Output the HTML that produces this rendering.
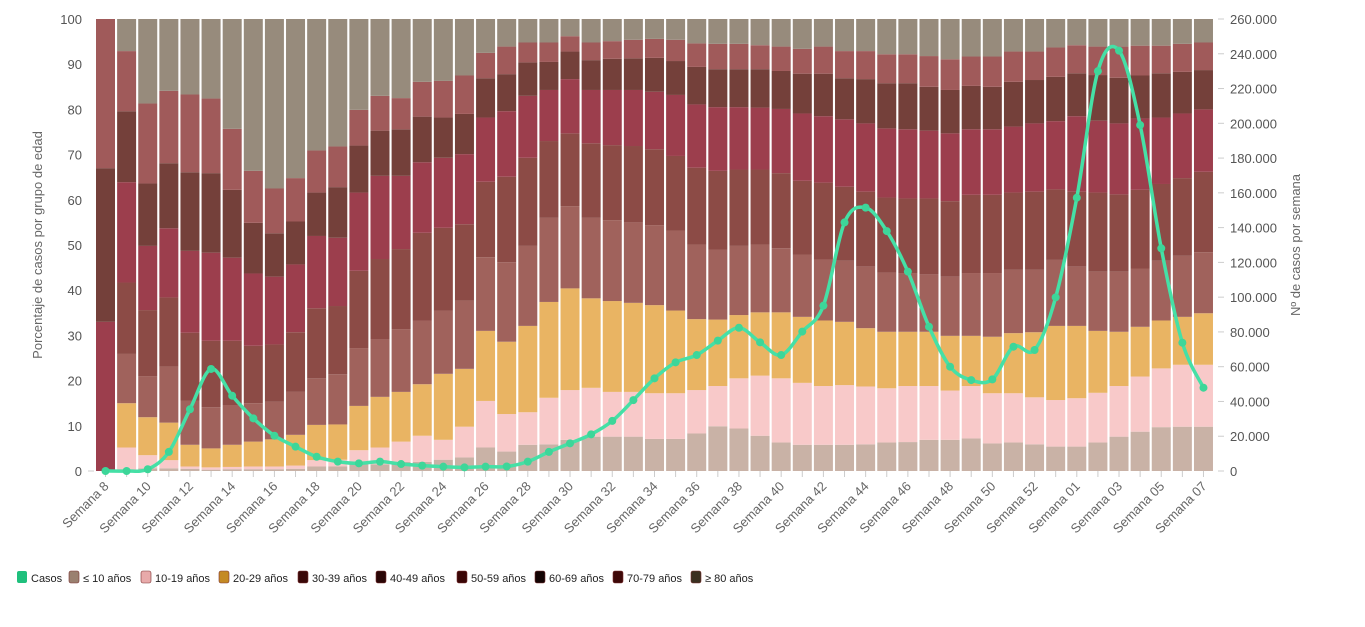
<!DOCTYPE html>
<html><head><meta charset="utf-8">
<style>
body{margin:0;background:#fff;font-family:"Liberation Sans",sans-serif;}
svg text{font-family:"Liberation Sans",sans-serif;}
</style></head>
<body>
<svg id="chart" width="1365" height="622" viewBox="0 0 1365 622" xmlns="http://www.w3.org/2000/svg"></svg>
<script>
const weeks = ["Semana 8","Semana 9","Semana 10","Semana 11","Semana 12","Semana 13","Semana 14","Semana 15","Semana 16","Semana 17","Semana 18","Semana 19","Semana 20","Semana 21","Semana 22","Semana 23","Semana 24","Semana 25","Semana 26","Semana 27","Semana 28","Semana 29","Semana 30","Semana 31","Semana 32","Semana 33","Semana 34","Semana 35","Semana 36","Semana 37","Semana 38","Semana 39","Semana 40","Semana 41","Semana 42","Semana 43","Semana 44","Semana 45","Semana 46","Semana 47","Semana 48","Semana 49","Semana 50","Semana 51","Semana 52","Semana 53","Semana 01","Semana 02","Semana 03","Semana 04","Semana 05","Semana 06","Semana 07"];
// cumulative tops (%) per group
const cum10 = [0,0,0.6,0.6,0.5,0.3,0.4,0.4,0.4,0.5,1,1,1.5,1.5,2,2,2.5,3,5.2,4.3,5.8,5.9,6.9,7.6,7.6,7.6,7.1,7.1,8.3,9.9,9.4,7.8,6.3,5.8,5.8,5.8,5.9,6.3,6.4,6.9,6.9,7.2,6.1,6.3,5.9,5.4,5.4,6.3,7.6,8.7,9.7,9.8,9.8];
const cum19 = [0,5.2,3.5,2.4,1,0.8,0.9,1,1,1.2,2.4,2.5,4.6,5.2,6.5,7.8,6.9,9.8,15.5,12.6,13,16.2,17.9,18.4,17.5,17.5,17.2,17.2,17.9,18.8,20.5,21.1,20.5,19.5,18.8,19,18.7,18.3,18.8,18.8,17.8,18.8,17.2,17.2,16.3,15.7,16.1,17.3,18.8,20.9,22.7,23.5,23.5];
const cum29 = [0,15,11.9,10.7,5.8,5,5.8,6.5,7,8,10.2,10.3,14.4,16.4,17.5,19.2,21.5,22.6,31,28.6,32.1,37.4,40.4,38.2,37.6,37.2,36.7,35.5,33.6,33.5,34.5,35.1,35.1,34.1,33.3,33,31.6,30.8,30.8,30.8,29.9,29.9,29.7,30.5,30.7,32.1,32.1,31,30.8,31.9,33.3,34.1,34.9];
const cum39 = [0,25.9,21,23.1,15.6,14.1,14.6,15,15.3,17.5,20.5,21.4,27.2,29.2,31.4,33.3,35.5,37.7,47.3,46.2,49.8,56,58.6,56,55.5,55,54.4,53.2,50.1,49,49.8,50.1,49.3,47.9,46.8,46.5,45.2,43.9,43.8,43.5,43,43.8,43.8,44.5,44.5,46.7,45.2,44.1,44.1,44.8,46.5,47.6,48.4];
const cum49 = [0,41.7,35.6,38.4,30.6,28.8,28.8,27.7,28,30.7,36,36.5,44.3,46.9,49.1,52.7,53.8,54.6,64,65.1,69.3,73,74.7,72.5,72.1,71.9,71.2,69.7,67.1,66.4,66.7,66.7,65.9,64.2,63.8,62.9,61.8,60.5,60.3,60.3,59.7,61.1,61.1,61.6,61.8,62.3,61.8,61.6,61.2,62.2,63.5,64.8,66.2];
const cum59 = [33,63.9,49.8,53.7,48.7,48.3,47.2,43.7,43,45.7,52,51.6,61.6,65.3,65.3,68.3,69.3,70.1,78.2,79.6,83,84.3,86.7,84.3,84.3,84.3,83.9,83.2,81.1,80.5,80.5,80.4,80.1,79.1,78.5,77.8,76.9,75.8,75.6,75.3,74.7,75.6,75.6,76.2,76.9,77.4,78.5,77.5,76.9,78,78.2,79.1,80];
const cum69 = [67,79.6,63.6,68.1,66.1,65.9,62.2,54.9,52.6,55.2,61.6,62.8,72,75.3,75.6,78.4,78.2,79,86.9,87.8,90.4,90.5,92.8,90.9,91.2,91.3,91.4,90.7,89.4,88.9,88.9,88.9,88.5,87.9,87.9,86.9,86.7,85.8,85.8,85,84.3,85.2,85,86.1,86.5,87.2,88,87.6,87,87.5,88,88.3,88.7];
const cum79 = [100,92.9,81.3,84.1,83.3,82.4,75.7,66.4,62.5,64.8,70.9,71.8,79.9,83,82.5,86.1,86.3,87.5,92.5,93.9,94.8,94.8,96.2,94.8,95.1,95.4,95.6,95.4,94.6,94.5,94.5,94.2,93.9,93.4,93.9,92.9,92.9,92.2,92.2,91.8,91.1,91.7,91.7,92.8,92.8,93.7,94.2,93.9,93.9,94.1,94.1,94.5,94.8];
const casos = [0,0,1000,11000,35500,58700,43300,30300,20300,14000,8200,5400,4400,5400,4000,3100,2500,2100,2500,2600,5400,11000,15900,21100,28800,40800,53300,62500,66700,75000,82400,74000,66700,80200,95100,143000,151500,138000,114700,83000,60000,52300,52700,71500,69600,99900,157200,230000,241800,199000,128100,73800,47900];
const leftTicks = ["0","10","20","30","40","50","60","70","80","90","100"];
const rightTicks = ["0","20.000","40.000","60.000","80.000","100.000","120.000","140.000","160.000","180.000","200.000","220.000","240.000","260.000"];
const groups = ["≤ 10 años","10-19 años","20-29 años","30-39 años","40-49 años","50-59 años","60-69 años","70-79 años","≥ 80 años"];

const colors = ["#c9b2a6","#f8c9c9","#e9b463","#a0625c","#8c4b46","#9c3e4d","#74403a","#a05a5a","#978b7c"];
const legendColors = ["#9a8070","#e8aaaa","#c48a24","#3a0808","#2a0606","#3a0606","#140404","#3e0808","#3a3020"];
const NS="http://www.w3.org/2000/svg";
const svg=document.getElementById('chart');
const X0=96, PITCH=21.115, BW=19, YT=19, YB=471;
const yL=v=>YB-(v/100)*(YB-YT);
const yR=v=>YB-(v/260000)*(YB-YT);
const xC=i=>X0+i*PITCH+BW/2;
function mk(t,a,p){const e=document.createElementNS(NS,t);for(const k in a)e.setAttribute(k,a[k]);(p||svg).appendChild(e);return e;}

// bars
const cums=[cum10,cum19,cum29,cum39,cum49,cum59,cum69,cum79];
const gBars=mk('g',{});


weeks.forEach((w,i)=>{
  let prev=0;
  for(let g=0;g<9;g++){
    const top = g<8?cums[g][i]:100;
    if(top>prev){
      const r=mk('rect',{x:X0+i*PITCH,y:yL(top),width:BW,height:yL(prev)-yL(top),fill:colors[g]},gBars);
      
      
    }
    prev=Math.max(prev,top);
  }
});
// first bar darker tint
// axes labels
leftTicks.forEach((t,k)=>{
  const e=mk('text',{x:82,y:yL(k*10)+5,'text-anchor':'end','font-size':13,fill:'#555'});
  e.textContent=t;
  
  
});
rightTicks.forEach((t,k)=>{
  mk('line',{x1:1218,x2:1224,y1:yR(k*20000),y2:yR(k*20000),stroke:'#ccc'});
  const e=mk('text',{x:1230,y:yR(k*20000)+5,'font-size':13,fill:'#555'});
  e.textContent=t;
  
  
});
mk('line',{x1:88,x2:94,y1:YB,y2:YB,stroke:'#ccc'});
weeks.forEach((w,i)=>{
  mk('line',{x1:xC(i),x2:xC(i),y1:YB,y2:YB+6,stroke:'#ccc'});
  if(i%2===0){
    const e=mk('text',{x:xC(i)+4,y:YB+16,'text-anchor':'end','font-size':13,fill:'#666',transform:`rotate(-45 ${xC(i)+4} ${YB+16})`});
    e.textContent=w;
    
    
  }
});
let t=mk('text',{x:42,y:245,'text-anchor':'middle','font-size':13,fill:'#666',transform:'rotate(-90 42 245)'});
t.textContent='Porcentaje de casos por grupo de edad';


t=mk('text',{x:1300,y:245,'text-anchor':'middle','font-size':13,fill:'#666',transform:'rotate(-90 1300 245)'});
t.textContent='Nº de casos por semana';



// spline
const pts=casos.map((v,i)=>[xC(i),yR(v)]);
let d=`M${pts[0][0]},${pts[0][1]}`;
for(let i=0;i<pts.length-1;i++){
  const p0=pts[Math.max(0,i-1)],p1=pts[i],p2=pts[i+1],p3=pts[Math.min(pts.length-1,i+2)];
  const c1=[p1[0]+(p2[0]-p0[0])/6,p1[1]+(p2[1]-p0[1])/6];
  const c2=[p2[0]-(p3[0]-p1[0])/6,p2[1]-(p3[1]-p1[1])/6];
  d+=` C${c1[0]},${c1[1]} ${c2[0]},${c2[1]} ${p2[0]},${p2[1]}`;
}
const line=mk('path',{d:d,fill:'none',stroke:'#45e0a6','stroke-width':3.5,'stroke-linejoin':'round'});


pts.forEach(p=>{
  const c=mk('circle',{cx:p[0],cy:p[1],r:4,fill:'#3dd699'});
  
  
});

// legend
const legX=[17,69,141,219,298,376,457,535,613,691];
const labels=["Casos"].concat(groups);
const lc=["#1fc07d"].concat(legendColors);
labels.forEach((l,k)=>{
  const g=mk('g',{});
  
  
  mk('rect',{x:legX[k],y:571,width:10,height:12,rx:2,fill:lc[k],stroke:k===0?'none':'#7a3030','stroke-width':k===0?0:0.6},g);
  const e=mk('text',{x:legX[k]+14,y:582,'font-size':11,fill:'#222'},g);
  e.textContent=l;
});
</script>
</body></html>
